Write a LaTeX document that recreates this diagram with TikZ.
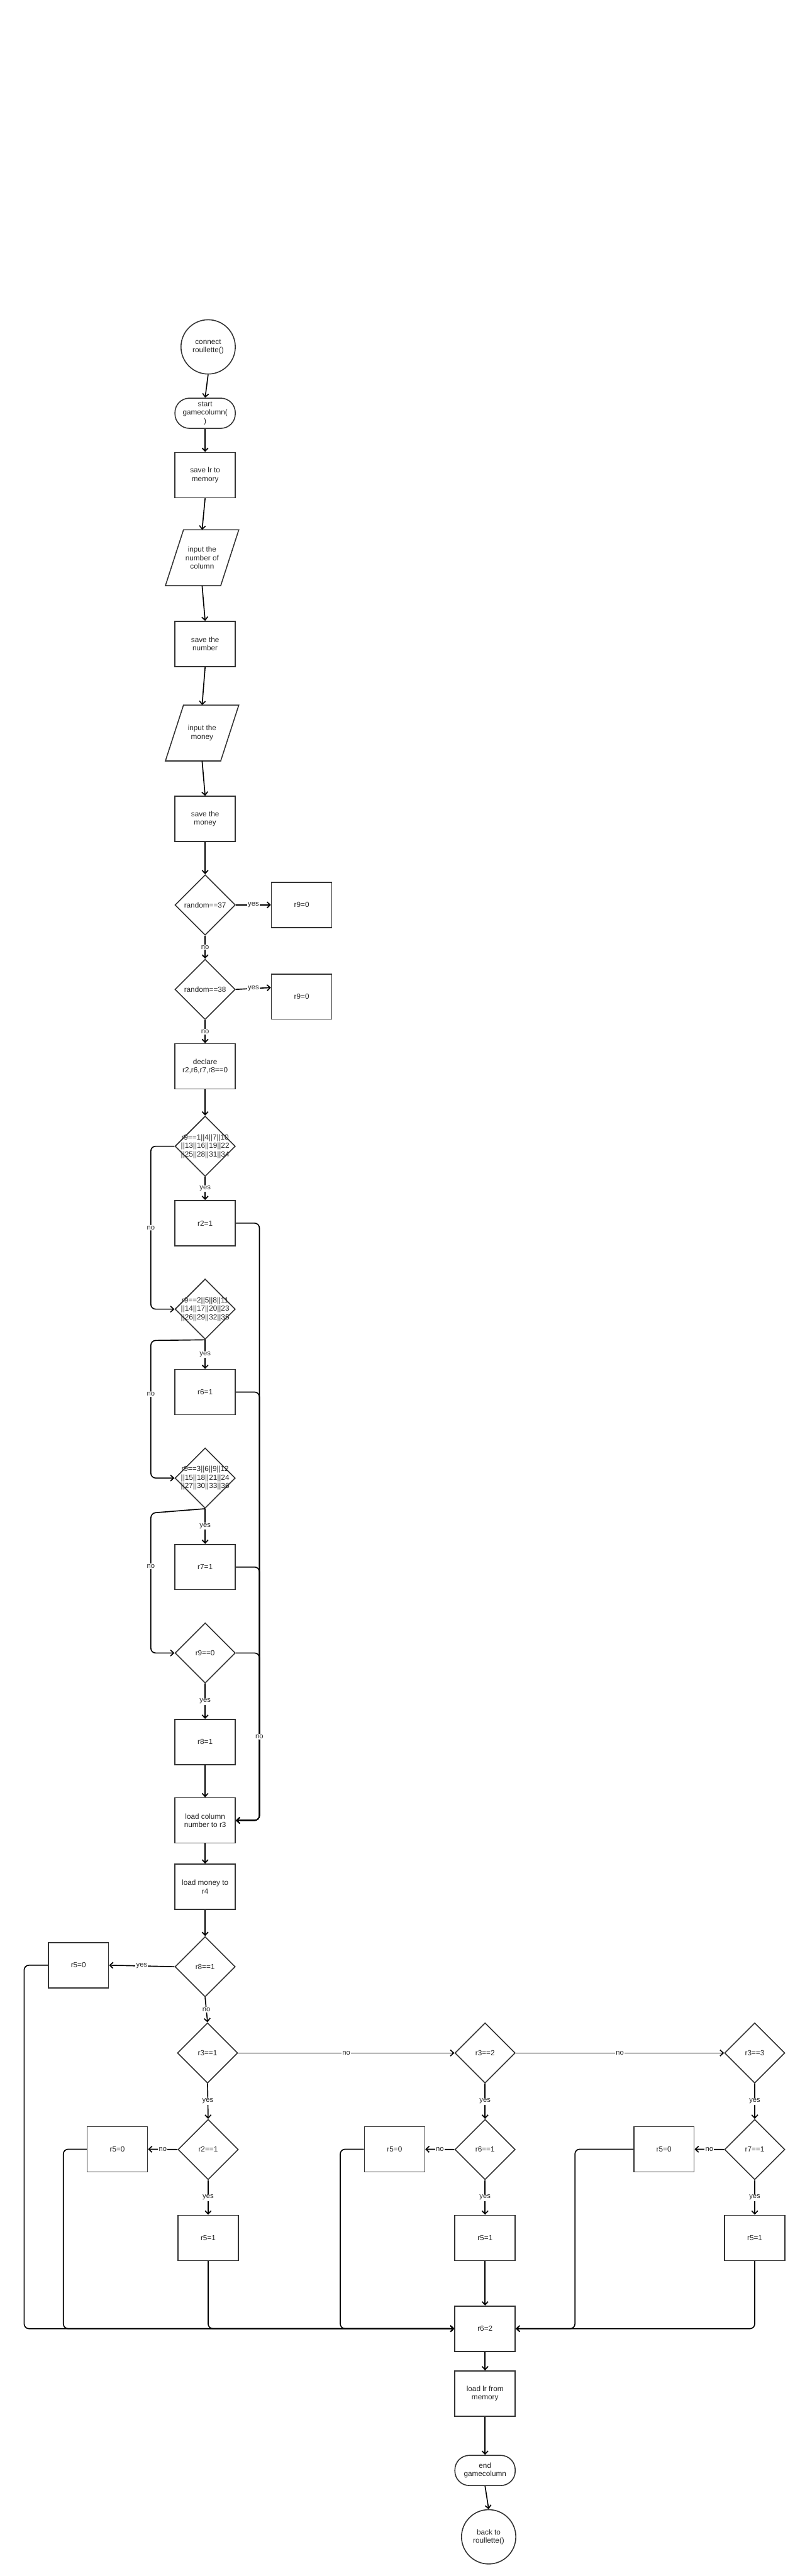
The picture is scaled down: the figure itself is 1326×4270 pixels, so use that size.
\documentclass[tikz,border=0pt]{standalone}
\usepackage{fontspec}
\setmainfont{Liberation Sans}
\usetikzlibrary{shapes.geometric,arrows.meta,calc}
\definecolor{shp}{HTML}{333333}
\definecolor{txt}{HTML}{222222}
\begin{document}
\begin{tikzpicture}[x=0.75pt,y=-0.75pt,
  base/.style={draw=shp, line width=1.25pt, align=center, font=\fontsize{9.2}{10.5}\selectfont, text=txt, inner sep=0pt},
  box/.style={base, rectangle, minimum width=75pt, minimum height=56.25pt},
  dia/.style={base, diamond, minimum width=75pt, minimum height=75pt},
  term/.style={base, rectangle, rounded corners=18pt, minimum width=75pt, minimum height=37.5pt},
  circ/.style={base, circle, minimum size=67.5pt},
  ptext/.style={base, draw=none, rectangle, minimum width=67.5pt, minimum height=68.25pt},
  lbl/.style={fill=white, inner sep=1pt, text=txt, font=\fontsize{8.8}{10}\selectfont},
  conn/.style={line width=1.3pt, draw=black, -{Straight Barb[length=4pt,width=7.5pt]}},
  elbow/.style={conn, rounded corners=6pt}
]
\useasboundingbox (0,0) rectangle (1326,4270);

% ---- top column ----
\node[circ] (c1) at (345,575) {connect\\roullette()};
\node[term] (t1) at (340,685) {start\\gamecolumn(\\)};
\node[box] (s1) at (340,787.5) {save lr to\\memory};
\node[ptext] (p1) at (335,924.5) {input the\\number of\\column};
\draw[draw=shp, line width=1.25pt] ($(p1.south west)+(-15,0)$) -- ($(p1.south east)+(-15,0)$) -- ($(p1.north east)+(15,0)$) -- ($(p1.north west)+(15,0)$) -- cycle;
\node[box] (s2) at (340,1067.5) {save the\\number};
\node[ptext] (p2) at (335,1215) {input the\\money};
\draw[draw=shp, line width=1.25pt] ($(p2.south west)+(-15,0)$) -- ($(p2.south east)+(-15,0)$) -- ($(p2.north east)+(15,0)$) -- ($(p2.north west)+(15,0)$) -- cycle;
\node[box] (s3) at (340,1357.5) {save the\\money};
\node[dia] (d1) at (340,1500) {};
\node[base, draw=none] (d1t) at (d1) {random==37};
\node[box] (r9a) at (500,1500) {r9=0};
\node[dia] (d2) at (340,1640) {};
\node[base, draw=none] (d2t) at (d2) {random==38};
\node[box] (r9b) at (500,1652) {r9=0};
\node[box] (dec) at (340,1767.5) {declare\\r2,r6,r7,r8==0};
\node[dia] (d3) at (340,1900) {};
\node[base, draw=none] (d3t) at (d3) {r9==1||4||7||10\\||13||16||19||22\\||25||28||31||34};
\node[box] (r2) at (340,2027.5) {r2=1};
\node[dia] (d4) at (340,2170) {};
\node[base, draw=none] (d4t) at (d4) {r9==2||5||8||11\\||14||17||20||23\\||26||29||32||35};
\node[box] (r6) at (340,2307.5) {r6=1};
\node[dia] (d5) at (340,2450) {};
\node[base, draw=none] (d5t) at (d5) {r9==3||6||9||12\\||15||18||21||24\\||27||30||33||36};
\node[box] (r7) at (340,2597.5) {r7=1};
\node[dia] (d6) at (340,2740) {};
\node[base, draw=none] (d6t) at (d6) {r9==0};
\node[box] (r8) at (340,2887.5) {r8=1};
\node[box] (lc) at (340,3017.5) {load column\\number to r3};
\node[box] (lm) at (340,3127.5) {load money to\\r4};
\node[dia] (d7) at (340,3260) {};
\node[base, draw=none] (d7t) at (d7) {r8==1};
\node[box] (r5a) at (130,3257.5) {r5=0};

% ---- bottom section ----
\node[dia] (d8) at (344,3403) {};
\node[base, draw=none] (d8t) at (d8) {r3==1};
\node[dia] (d9) at (804,3403) {};
\node[base, draw=none] (d9t) at (d9) {r3==2};
\node[dia] (d10) at (1251,3403) {};
\node[base, draw=none] (d10t) at (d10) {r3==3};
\node[dia] (d11) at (345,3563) {};
\node[base, draw=none] (d11t) at (d11) {r2==1};
\node[dia] (d12) at (804,3563) {};
\node[base, draw=none] (d12t) at (d12) {r6==1};
\node[dia] (d13) at (1251,3563) {};
\node[base, draw=none] (d13t) at (d13) {r7==1};
\node[box] (r5b) at (194.5,3562.5) {r5=0};
\node[box] (r5c) at (654,3562.5) {r5=0};
\node[box] (r5d) at (1100.5,3562.5) {r5=0};
\node[box] (r51a) at (345,3709.5) {r5=1};
\node[box] (r51b) at (804,3709.5) {r5=1};
\node[box] (r51c) at (1251,3709.5) {r5=1};
\node[box] (r62) at (804,3860) {r6=2};
\node[box] (lr) at (804,3967.5) {load lr from\\memory};
\node[term] (t2) at (804,4095) {end\\gamecolumn};
\node[circ] (c2) at (810,4205) {back to\\roullette()};

% ---- connectors ----
\draw[conn] (c1.south) -- (t1.north);
\draw[conn] (t1.south) -- (s1.north);
\draw[conn] (s1.south) -- (p1.north);
\draw[conn] (p1.south) -- (s2.north);
\draw[conn] (s2.south) -- (p2.north);
\draw[conn] (p2.south) -- (s3.north);
\draw[conn] (s3.south) -- (d1.north);
\draw[conn] (d1.east) -- node[lbl]{yes} (r9a.west);
\draw[conn] (d1.south) -- node[lbl]{no} (d2.north);
\draw[conn] (d2.east) -- node[lbl]{yes} ($(r9b.west)+(0,-15)$);
\draw[conn] (d2.south) -- node[lbl]{no} (dec.north);
\draw[conn] (dec.south) -- (d3.north);
\draw[conn] (d3.south) -- node[lbl]{yes} (r2.north);
\draw[elbow] (d3.west) -- (250,1900) -- node[lbl]{no} (250,2170) -- (d4.west);
\draw[elbow] (r2.east) -- (430,2027.5) -- (430,3017.5) -- (lc.east);
\draw[conn] (d4.south) -- node[lbl]{yes} (r6.north);
\draw[elbow] (d4.south) -- (250,2222) -- node[lbl,pos=0.39]{no} (250,2450) -- (d5.west);
\draw[elbow] (r6.east) -- (430,2307.5) -- (430,3017.5) -- (lc.east);
\draw[conn] (d5.south) -- node[lbl]{yes} (r7.north);
\draw[elbow] (d5.south) -- (250,2508) -- node[lbl,pos=0.38]{no} (250,2740) -- (d6.west);
\draw[elbow] (r7.east) -- (430,2597.5) -- (430,3017.5) -- (lc.east);
\draw[conn] (d6.south) -- node[lbl]{yes} (r8.north);
\draw[elbow] (d6.east) -- (430,2740) -- node[lbl]{no} (430,3017.5) -- (lc.east);
\draw[conn] (r8.south) -- (lc.north);
\draw[conn] (lc.south) -- (lm.north);
\draw[conn] (lm.south) -- (d7.north);
\draw[conn] (d7.west) -- node[lbl]{yes} (r5a.east);
\draw[conn] (d7.south) -- node[lbl]{no} (d8.north);
\draw[elbow] (r5a.west) -- (40,3257.5) -- (40,3860) -- (r62.west);
\draw[conn] (d8.east) -- node[lbl]{no} (d9.west);
\draw[conn] (d9.east) -- node[lbl]{no} (d10.west);
\draw[conn] (d8.south) -- node[lbl]{yes} (d11.north);
\draw[conn] (d9.south) -- node[lbl]{yes} (d12.north);
\draw[conn] (d10.south) -- node[lbl]{yes} (d13.north);
\draw[conn] (d11.west) -- node[lbl]{no} (r5b.east);
\draw[conn] (d12.west) -- node[lbl]{no} (r5c.east);
\draw[conn] (d13.west) -- node[lbl]{no} (r5d.east);
\draw[conn] (d11.south) -- node[lbl]{yes} (r51a.north);
\draw[conn] (d12.south) -- node[lbl]{yes} (r51b.north);
\draw[conn] (d13.south) -- node[lbl]{yes} (r51c.north);
\draw[elbow] (r5b.west) -- (105,3562.5) -- (105,3860) -- (r62.west);
\draw[elbow] (r51a.south) -- (345,3860) -- (r62.west);
\draw[elbow] (r5c.west) -- (564,3562.5) -- (564,3860) -- (r62.west);
\draw[conn] (r51b.south) -- (r62.north);
\draw[elbow] (r5d.west) -- (953,3562.5) -- (953,3860) -- (r62.east);
\draw[elbow] (r51c.south) -- (1251,3860) -- (r62.east);
\draw[conn] (r62.south) -- (lr.north);
\draw[conn] (lr.south) -- (t2.north);
\draw[conn] (t2.south) -- (c2.north);
\end{tikzpicture}
\end{document}
